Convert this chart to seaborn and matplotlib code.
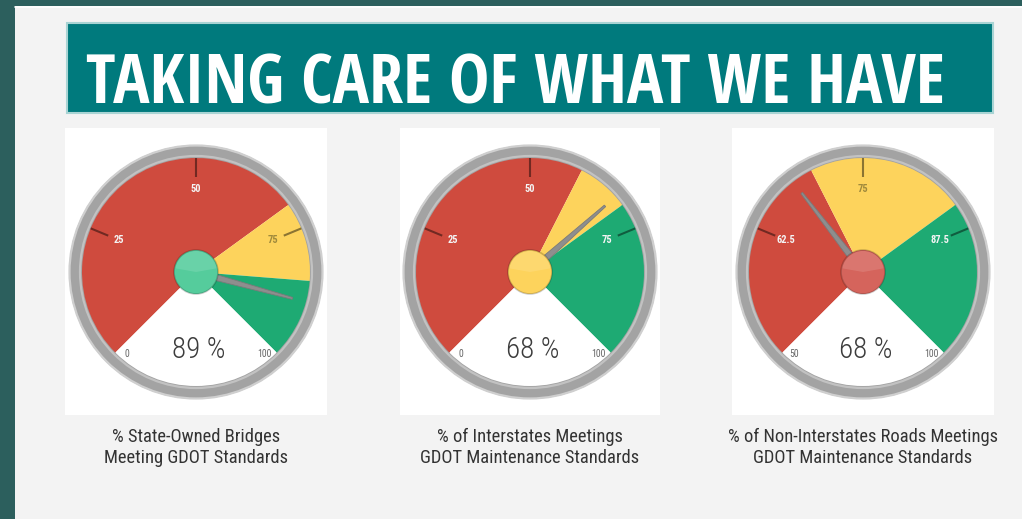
import numpy as np
import pandas as pd
import matplotlib
matplotlib.use("Agg")
import matplotlib.pyplot as plt
import seaborn as sns
from matplotlib.patches import Wedge, Circle, Rectangle, Polygon

# ---------------- data ----------------
title = "TAKING CARE OF WHAT WE HAVE"
gauge_values = [89, 68, 68]
scale_min = [0, 0, 50]
scale_max = [100, 100, 100]
red_end = [70, 60, 70]
yellow_end = [85, 70, 85]
tick_labels = [["0", "25", "50", "75", "100"],
               ["0", "25", "50", "75", "100"],
               ["50", "62.5", "75", "87.5", "100"]]
captions = [["% State-Owned Bridges", "Meeting GDOT Standards"],
            ["% of Interstates Meetings", "GDOT Maintenance Standards"],
            ["% of Non-Interstates Roads Meetings", "GDOT Maintenance Standards"]]

# ---------------- style ----------------
sns.set_theme(style="white")
plt.rcParams["font.family"] = ["Roboto Condensed", "DejaVu Sans"]
TITLE_FONT = ["Open Sans Condensed", "DejaVu Sans"]
TEXT_FONT = ["Roboto Condensed", "DejaVu Sans"]

RED, YELLOW, GREEN = "#cf4b3e", "#fdd35c", "#1eaa73"
HUB = {"red": "#d5645c", "yellow": "#fdd35c", "green": "#55cc9c"}
W, H = 1022, 519

fig = plt.figure(figsize=(W / 100, H / 100), dpi=100)
bg = fig.add_axes([0, 0, 1, 1])
bg.set_xlim(0, W)
bg.set_ylim(H, 0)
bg.axis("off")

bg.add_patch(Rectangle((0, 0), W, H, facecolor="#2c5f5d", edgecolor="none"))
bg.add_patch(Rectangle((15, 6), W - 15, H - 6, facecolor="#f3f3f3", edgecolor="none"))
bg.plot([15, W], [7, 7], color="#ffffff", lw=1.2)
bg.add_patch(Rectangle((67, 23), 926, 90, facecolor="#007a7d",
                       edgecolor="#a9d4d4", lw=1.5))
t = bg.text(86, 103, title, color="white", fontsize=44, fontweight="bold",
            family=TITLE_FONT, ha="left", va="baseline")

centers = [196, 530, 863]
boxes = [(65, 262), (400, 260), (732, 262)]
for (bx, bw) in boxes:
    bg.add_patch(Rectangle((bx, 128), bw, 287, facecolor="white", edgecolor="none"))

for cx, cap in zip(centers, captions):
    bg.text(cx, 437, cap[0], ha="center", va="center", fontsize=13.3, color="#333333",
            family=TEXT_FONT)
    bg.text(cx, 458, cap[1], ha="center", va="center", fontsize=13.3, color="#333333",
            family=TEXT_FONT)

fig.canvas.draw()
bb = t.get_window_extent()
fs = 44 * 860 / bb.width
t.set_fontsize(min(fs, 50))


def band_of(v, i):
    if v < red_end[i]:
        return "red"
    if v < yellow_end[i]:
        return "yellow"
    return "green"


CY = 272
R_FACE, R_RING = 114, 127
for i, cx in enumerate(centers):
    vmin, vmax = scale_min[i], scale_max[i]

    def ang(v):
        return 225 - 270 * (v - vmin) / (vmax - vmin)

    ax = fig.add_axes([(cx - 135) / W, (H - CY - 135) / H, 270 / W, 270 / H])
    ax.set_xlim(-135, 135)
    ax.set_ylim(-135, 135)
    ax.axis("off")

    ax.add_patch(Wedge((0, 0), R_RING, 0, 360, width=R_RING - R_FACE + 1,
                       facecolor="#a3a3a3", edgecolor="none"))
    ax.add_patch(Circle((0, 0), R_RING - 0.5, fill=False, edgecolor="#cfcfcf", lw=1.6))
    ax.add_patch(Circle((0, 0), R_FACE + 2, fill=False, edgecolor="#c2c2c2", lw=1.6))

    bands = [(vmin, red_end[i], RED), (red_end[i], yellow_end[i], YELLOW),
             (yellow_end[i], vmax, GREEN)]
    for v1, v2, c in bands:
        ax.add_patch(Wedge((0, 0), R_FACE, ang(v2), ang(v1), facecolor=c,
                           edgecolor="none"))
    ax.add_patch(Wedge((0, 0), R_FACE, 225, 315, facecolor="white", edgecolor="none"))

    n = len(tick_labels[i])
    tvals = np.linspace(vmin, vmax, n)
    for k, (tv, lab) in enumerate(zip(tvals, tick_labels[i])):
        a = np.deg2rad(ang(tv))
        if 0 < k < n - 1:
            ax.plot([95 * np.cos(a), R_FACE * np.cos(a)],
                    [95 * np.sin(a), R_FACE * np.sin(a)],
                    color="black", alpha=0.45, lw=1.5, solid_capstyle="butt")
            b = band_of(tv, i)
            col = "#a08a3c" if b == "yellow" else "#f4f4f4"
            ax.text(83 * np.cos(a), 83 * np.sin(a), lab, ha="center", va="center",
                    fontsize=7.5, color=col, fontweight="bold", family=TEXT_FONT)
        else:
            off = 5 if k == 0 else -5
            a2 = np.deg2rad(ang(tv) + off)
            ax.text(107 * np.cos(a2), 107 * np.sin(a2), lab, ha="center", va="center",
                    fontsize=7, color="#666666", family=TEXT_FONT)

    ax.text(3, -78, f"{gauge_values[i]} %", ha="center", va="center",
            fontsize=21, color="#3c3c3c", family=TEXT_FONT, fontweight="light")

    a = np.deg2rad(ang(gauge_values[i]))
    d = np.array([np.cos(a), np.sin(a)])
    p = np.array([-np.sin(a), np.cos(a)])
    pts = [3.5 * p, 100 * d + 1.0 * p, 100 * d - 1.0 * p, -3.5 * p]
    ax.add_patch(Polygon(pts, closed=True, facecolor="#8e8e8e", edgecolor="#7a7a7a",
                         lw=0.6))

    hc = HUB[band_of(gauge_values[i], i)]
    ax.add_patch(Circle((0, 0), 22, facecolor=hc, edgecolor="#00000030", lw=1.2))
    ax.add_patch(Wedge((0, 0), 21, 10, 170, facecolor="white", alpha=0.12,
                       edgecolor="none"))

fig.savefig("out.png", dpi=100)
